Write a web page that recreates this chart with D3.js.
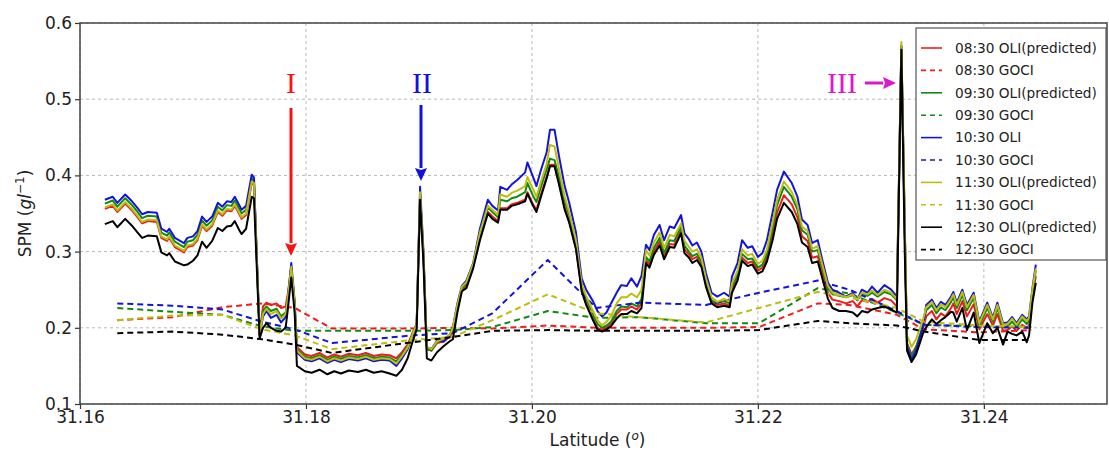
<!DOCTYPE html>
<html>
<head>
<meta charset="utf-8">
<script src="https://cdn.jsdelivr.net/npm/d3@7"></script>
<style>
  body { margin: 0; background: #fff; }
  svg { font-family: "DejaVu Sans", sans-serif; }
</style>
</head>
<body>
<svg id="drawing_region"></svg>
<script>
// latitude of the OLI transect samples
const lat = [
  31.1622,31.1629,31.1633,31.1640,31.1646,31.1651,31.1655,31.1660,31.1668,31.1672,
  31.1677,31.1679,31.1684,31.1692,31.1695,31.1700,31.1704,31.1708,31.1712,31.1717,
  31.1722,31.1726,31.1730,31.1734,31.1737,31.1741,31.1743,31.1747,31.1752,31.1754,
  31.1759,31.1762,31.1765,31.1769,31.1774,31.1778,31.1782,31.1784,31.1787,31.1790,31.1792,
  31.1799,31.1805,31.1812,31.1819,31.1825,31.1831,31.1838,31.1846,31.1853,31.1860,31.1867,31.1874,31.1880,
  31.1885,31.1890,31.1894,31.1898,31.1901,31.1904,31.1907,31.1911,31.1916,31.1922,31.1927,31.1930,
  31.1934,31.1938,31.1942,31.1948,31.1954,31.1961,31.1965,31.1970,
  31.1972,31.1978,31.1982,31.1987,31.1994,31.1996,31.2001,31.2004,31.2008,31.2013,31.2016,31.2020,
  31.2024,31.2029,31.2033,31.2039,31.2044,31.2048,31.2054,31.2058,31.2062,31.2066,31.2070,
  31.2075,31.2079,31.2084,31.2088,31.2093,31.2097,31.2101,31.2104,31.2108,31.2113,31.2117,31.2122,31.2126,
  31.2132,31.2135,31.2139,31.2142,31.2146,31.2150,31.2154,31.2159,31.2164,31.2170,31.2175,
  31.2177,31.2182,31.2186,31.2191,31.2195,31.2200,31.2204,31.2208,31.2213,31.2217,
  31.2223,31.2230,31.2235,31.2239,31.2244,31.2248,31.2253,31.2257,31.2262,31.2266,
  31.2272,31.2278,31.2284,31.2288,31.2292,31.2297,31.2301,31.2306,31.2312,31.2318,31.2323,
  31.2327,31.2330,31.2332,31.2336,31.2340,31.2346,
  31.2349,31.2354,31.2358,31.2362,31.2366,31.2371,31.2373,31.2376,31.2381,31.2385,31.2391,31.2396,
  31.2403,31.2408,31.2412,31.2417,31.2421,31.2425,31.2429,31.2434,31.2438,31.2440,31.2443,31.2446
];

const oli0830 = [
  .356,.360,.352,.363,.354,.345,.337,.340,.339,.318,
  .314,.318,.306,.299,.306,.308,.315,.334,.327,.334,
  .352,.347,.354,.353,.360,.349,.343,.348,.390,.388,
  .192,.228,.233,.230,.232,.226,.228,.245,.280,.230,.175,
  .165,.163,.167,.161,.165,.162,.166,.164,.167,.163,.165,.164,.160,
  .168,.178,.192,.205,.375,.295,.172,.170,.180,.182,.188,.195,
  .225,.250,.255,.280,.318,.352,.346,.340,
  .357,.357,.362,.364,.368,.378,.362,.355,.375,.398,.414,.414,
  .390,.358,.340,.305,.250,.232,.212,.200,.197,.200,.205,
  .218,.224,.224,.228,.224,.232,.289,.283,.300,.313,.293,.310,.309,
  .328,.303,.296,.290,.293,.283,.257,.234,.230,.232,.229,
  .250,.266,.292,.285,.287,.275,.279,.292,.322,.351,
  .374,.362,.345,.320,.314,.292,.294,.272,.246,.237,
  .235,.232,.235,.228,.236,.234,.238,.233,.239,.236,.228,
  .568,.330,.180,.165,.175,.198,
  .215,.222,.211,.219,.215,.226,.232,.218,.235,.215,.231,.198,
  .218,.203,.218,.196,.197,.202,.196,.204,.200,.203,.240,.268
];

const oli0930 = [
  .363,.367,.359,.370,.361,.352,.344,.347,.346,.325,
  .321,.325,.313,.306,.313,.315,.322,.341,.334,.341,
  .359,.354,.361,.360,.367,.356,.350,.355,.396,.393,
  .190,.222,.228,.222,.225,.215,.220,.240,.278,.230,.172,
  .162,.160,.164,.158,.162,.159,.163,.161,.164,.160,.162,.161,.156,
  .165,.175,.190,.205,.376,.295,.172,.170,.181,.185,.190,.198,
  .228,.252,.258,.282,.322,.358,.352,.345,
  .368,.366,.370,.372,.378,.390,.373,.365,.385,.408,.422,.420,
  .398,.366,.348,.312,.255,.238,.218,.205,.200,.203,.208,
  .222,.228,.227,.232,.228,.238,.293,.287,.305,.318,.298,.315,.314,
  .333,.308,.300,.294,.297,.287,.260,.236,.232,.235,.232,
  .254,.270,.297,.290,.291,.279,.283,.297,.331,.361,
  .385,.372,.355,.328,.322,.300,.302,.279,.252,.244,
  .242,.240,.243,.236,.244,.242,.246,.241,.247,.244,.236,
  .570,.330,.178,.163,.174,.203,
  .223,.230,.219,.227,.223,.234,.240,.226,.243,.223,.239,.203,
  .226,.208,.226,.201,.202,.208,.201,.211,.205,.209,.246,.275
];

const oli1030 = [
  .368,.372,.364,.375,.366,.357,.349,.352,.351,.330,
  .326,.330,.318,.311,.318,.320,.327,.346,.339,.346,
  .364,.359,.366,.365,.372,.361,.355,.360,.401,.397,
  .190,.215,.222,.213,.217,.207,.214,.240,.285,.235,.168,
  .158,.156,.160,.154,.158,.155,.159,.157,.160,.156,.158,.157,.150,
  .160,.172,.190,.205,.385,.300,.175,.172,.183,.182,.190,.200,
  .232,.255,.262,.285,.330,.368,.360,.354,
  .385,.381,.388,.394,.404,.417,.398,.386,.407,.430,.460,.460,
  .425,.386,.364,.325,.265,.250,.235,.222,.215,.220,.232,
  .246,.256,.255,.265,.254,.268,.309,.302,.322,.335,.315,.333,.331,
  .348,.324,.316,.308,.312,.300,.272,.246,.241,.246,.241,
  .267,.285,.315,.305,.307,.293,.298,.315,.351,.381,
  .405,.390,.372,.342,.335,.311,.315,.289,.259,.250,
  .246,.241,.246,.237,.250,.246,.254,.246,.256,.250,.241,
  .570,.330,.175,.158,.170,.201,
  .230,.237,.226,.234,.230,.241,.247,.233,.250,.230,.246,.208,
  .233,.213,.233,.206,.207,.214,.206,.217,.211,.215,.252,.283
];

const oli1130 = [
  .358,.362,.354,.365,.356,.347,.339,.342,.341,.320,
  .316,.320,.308,.301,.308,.310,.317,.336,.329,.336,
  .354,.349,.356,.355,.362,.351,.345,.350,.392,.390,
  .190,.218,.225,.218,.222,.212,.218,.240,.280,.232,.170,
  .160,.158,.162,.156,.160,.157,.161,.159,.162,.158,.160,.159,.153,
  .163,.174,.190,.205,.378,.296,.175,.172,.182,.186,.190,.200,
  .230,.254,.260,.284,.325,.360,.355,.348,
  .375,.372,.377,.380,.386,.398,.382,.372,.392,.415,.440,.438,
  .408,.372,.352,.315,.258,.242,.222,.210,.203,.208,.215,
  .232,.240,.240,.245,.240,.250,.302,.295,.312,.325,.305,.322,.320,
  .337,.314,.306,.300,.303,.292,.265,.240,.234,.238,.235,
  .258,.275,.303,.295,.297,.284,.288,.303,.338,.368,
  .392,.378,.361,.333,.327,.304,.307,.283,.255,.246,
  .243,.240,.244,.237,.246,.244,.249,.243,.250,.246,.238,
  .575,.340,.190,.175,.185,.210,
  .227,.234,.223,.231,.227,.238,.244,.230,.247,.227,.243,.206,
  .230,.211,.230,.204,.205,.212,.204,.215,.209,.213,.250,.278
];

const oli1230 = [
  .336,.340,.332,.343,.334,.325,.318,.321,.320,.299,
  .295,.298,.287,.282,.283,.288,.295,.313,.305,.314,
  .331,.327,.333,.334,.340,.328,.323,.330,.372,.370,
  .186,.200,.206,.200,.196,.195,.200,.225,.266,.220,.150,
  .143,.141,.145,.139,.143,.140,.144,.142,.145,.141,.143,.140,.137,
  .145,.160,.180,.198,.368,.285,.160,.157,.168,.176,.182,.185,
  .220,.248,.252,.278,.315,.350,.343,.338,
  .355,.355,.360,.362,.366,.376,.360,.352,.372,.396,.412,.412,
  .388,.355,.338,.303,.248,.230,.210,.198,.195,.198,.202,
  .212,.218,.218,.222,.219,.226,.285,.279,.296,.308,.290,.306,.305,
  .324,.298,.292,.285,.289,.280,.254,.232,.227,.229,.227,
  .246,.262,.288,.281,.283,.271,.274,.287,.315,.343,
  .364,.352,.336,.312,.306,.285,.287,.265,.238,.226,
  .222,.222,.220,.215,.222,.220,.224,.226,.228,.224,.220,
  .565,.300,.170,.155,.165,.192,
  .201,.211,.205,.210,.214,.221,.220,.208,.226,.197,.220,.180,
  .206,.193,.200,.178,.195,.192,.190,.195,.181,.190,.233,.259
];

// GOCI pixels along the same transect
const gociLat = [31.1633,31.1682,31.1726,31.1761,31.1790,31.1823,31.1894,31.1930,31.1965,31.2014,
                 31.2057,31.2095,31.2154,31.2201,31.2253,31.2281,31.2323,31.2347,31.2396,31.2442];
const goci0830 = [.210,.214,.227,.232,.226,.199,.199,.200,.199,.203,.200,.200,.200,.201,.232,.230,.217,.198,.194,.197];
const goci0930 = [.226,.221,.217,.202,.196,.196,.196,.197,.201,.222,.213,.214,.206,.206,.252,.245,.220,.204,.202,.201];
const goci1030 = [.232,.229,.224,.208,.198,.180,.190,.193,.219,.289,.226,.233,.230,.246,.262,.250,.222,.204,.201,.200];
const goci1130 = [.210,.216,.217,.198,.190,.172,.184,.188,.210,.244,.219,.214,.207,.226,.247,.240,.226,.208,.203,.201];
const goci1230 = [.193,.195,.191,.185,.178,.167,.181,.188,.196,.197,.196,.196,.196,.197,.209,.206,.203,.195,.184,.184];

const xTicks = [31.16, 31.18, 31.20, 31.22, 31.24];
const yTicks = [0.1, 0.2, 0.3, 0.4, 0.5, 0.6];

const series = [
  {label: "08:30 OLI(predicted)", x: lat, y: oli0830, color: "#ee1c1c", dash: null},
  {label: "08:30 GOCI", x: gociLat, y: goci0830, color: "#ee1c1c", dash: "6,4"},
  {label: "09:30 OLI(predicted)", x: lat, y: oli0930, color: "#128a12", dash: null},
  {label: "09:30 GOCI", x: gociLat, y: goci0930, color: "#128a12", dash: "6,4"},
  {label: "10:30 OLI", x: lat, y: oli1030, color: "#1414d8", dash: null},
  {label: "10:30 GOCI", x: gociLat, y: goci1030, color: "#1414d8", dash: "6,4"},
  {label: "11:30 OLI(predicted)", x: lat, y: oli1130, color: "#bdbd10", dash: null},
  {label: "11:30 GOCI", x: gociLat, y: goci1130, color: "#bdbd10", dash: "6,4"},
  {label: "12:30 OLI(predicted)", x: lat, y: oli1230, color: "#000000", dash: null},
  {label: "12:30 GOCI", x: gociLat, y: goci1230, color: "#000000", dash: "6,4"}
];

const width = 1109, height = 450;
const margin = {top: 23, right: 2, bottom: 46, left: 80};
const inner_width = width - margin.left - margin.right;
const inner_height = height - margin.top - margin.bottom;

const svg = d3.select("#drawing_region")
    .attr("width", width)
    .attr("height", height);

const chart = svg.append("g")
    .attr("transform", `translate(${margin.left}, ${margin.top})`);

const xscale = d3.scaleLinear()
    .domain([31.16, 31.2509])
    .range([0, inner_width]);

const yscale = d3.scaleLinear()
    .domain([0.1, 0.6])
    .range([inner_height, 0]);

// grid
chart.append("g").selectAll("line.gx")
    .data(xTicks)
    .join("line")
    .attr("x1", d => xscale(d)).attr("x2", d => xscale(d))
    .attr("y1", 0).attr("y2", inner_height)
    .attr("stroke", "#b8b8b8").attr("stroke-width", 1)
    .attr("stroke-dasharray", "3,3");

chart.append("g").selectAll("line.gy")
    .data(yTicks)
    .join("line")
    .attr("x1", 0).attr("x2", inner_width)
    .attr("y1", d => yscale(d)).attr("y2", d => yscale(d))
    .attr("stroke", "#b8b8b8").attr("stroke-width", 1)
    .attr("stroke-dasharray", "3,3");

chart.append("clipPath").attr("id", "clip")
    .append("rect").attr("width", inner_width).attr("height", inner_height);

const line = d3.line()
    .x(d => xscale(d[0]))
    .y(d => yscale(d[1]));

chart.append("g").attr("clip-path", "url(#clip)")
    .selectAll("path")
    .data(series)
    .join("path")
    .attr("d", s => line(s.x.map((v, i) => [v, s.y[i]])))
    .attr("fill", "none")
    .attr("stroke", s => s.color)
    .attr("stroke-width", 2)
    .attr("stroke-linejoin", "round")
    .attr("stroke-dasharray", s => s.dash);

// axes
const xaxis = d3.axisBottom(xscale)
    .tickValues(xTicks)
    .tickFormat(d3.format(".2f"))
    .tickSize(5).tickPadding(2);

const yaxis = d3.axisLeft(yscale)
    .tickValues(yTicks)
    .tickFormat(d3.format(".1f"))
    .tickSize(5).tickPadding(3);

const xg = chart.append("g")
    .attr("transform", `translate(0, ${inner_height})`)
    .call(xaxis);
const yg = chart.append("g").call(yaxis);

[xg, yg].forEach(g => {
    g.select(".domain").remove();
    g.selectAll("line").attr("stroke", "#333").attr("stroke-width", 1.2);
    g.selectAll("text")
        .attr("font-family", "DejaVu Sans")
        .attr("font-size", 17)
        .attr("fill", "#222");
});

chart.append("rect")
    .attr("width", inner_width).attr("height", inner_height)
    .attr("fill", "none").attr("stroke", "#444").attr("stroke-width", 1.5);

// axis labels
const xlabel = svg.append("text")
    .attr("x", margin.left + inner_width / 2 + 4)
    .attr("y", 446)
    .attr("text-anchor", "middle")
    .attr("font-size", 17)
    .attr("fill", "#222");
xlabel.append("tspan").text("Latitude (");
xlabel.append("tspan").attr("font-style", "italic").attr("font-size", 12).attr("dy", -6).text("o");
xlabel.append("tspan").attr("dy", 6).text(")");

const ylabel = svg.append("text")
    .attr("transform", `translate(31, ${margin.top + inner_height / 2}) rotate(-90)`)
    .attr("text-anchor", "middle")
    .attr("font-size", 17)
    .attr("fill", "#222");
ylabel.append("tspan").text("SPM (");
ylabel.append("tspan").attr("font-style", "italic").text("gl");
ylabel.append("tspan").attr("font-size", 12).attr("dy", -7).text("\u22121");
ylabel.append("tspan").attr("dy", 7).text(")");

// annotations
const notes = svg.append("g").attr("font-family", "Liberation Serif, serif").attr("font-size", 30);

function arrow(x1, y1, x2, y2, color) {
    const ang = Math.atan2(y2 - y1, x2 - x1);
    const hl = 13, hw = 6;
    const bx = x2 - hl * Math.cos(ang), by = y2 - hl * Math.sin(ang);
    notes.append("line")
        .attr("x1", x1).attr("y1", y1).attr("x2", bx).attr("y2", by)
        .attr("stroke", color).attr("stroke-width", 3);
    notes.append("polygon")
        .attr("points", [
            [x2, y2],
            [bx - hw * Math.sin(ang), by + hw * Math.cos(ang)],
            [bx + 2 * Math.cos(ang), by + 2 * Math.sin(ang)],
            [bx + hw * Math.sin(ang), by - hw * Math.cos(ang)]
        ].map(p => p.join(",")).join(" "))
        .attr("fill", color);
}

notes.append("text").attr("x", 291).attr("y", 93).attr("text-anchor", "middle").attr("fill", "#ff1010").text("I");
arrow(291, 108, 291, 256, "#ff1010");
notes.append("text").attr("x", 422).attr("y", 93).attr("text-anchor", "middle").attr("fill", "#1010e0").text("II");
arrow(421, 105, 421, 181, "#1010e0");
notes.append("text").attr("x", 842).attr("y", 93).attr("text-anchor", "middle").attr("fill", "#dd18cc").text("III");
arrow(865, 83, 896, 83, "#dd18cc");

// legend
const legend = svg.append("g").attr("transform", "translate(916, 28)");
legend.append("rect")
    .attr("width", 190).attr("height", 232)
    .attr("fill", "#fff").attr("stroke", "#555").attr("stroke-width", 1.2);

const rows = legend.selectAll("g.row")
    .data(series)
    .join("g")
    .attr("transform", (d, i) => `translate(0, ${20 + i * 22.4})`);
rows.append("line")
    .attr("x1", 5).attr("x2", 26)
    .attr("stroke", d => d.color).attr("stroke-width", 1.6)
    .attr("stroke-dasharray", d => d.dash ? "5,4" : null);
rows.append("text")
    .attr("x", 39).attr("dy", "0.35em")
    .attr("font-size", 13.7)
    .attr("fill", "#222")
    .text(d => d.label);
</script>
</body>
</html>
